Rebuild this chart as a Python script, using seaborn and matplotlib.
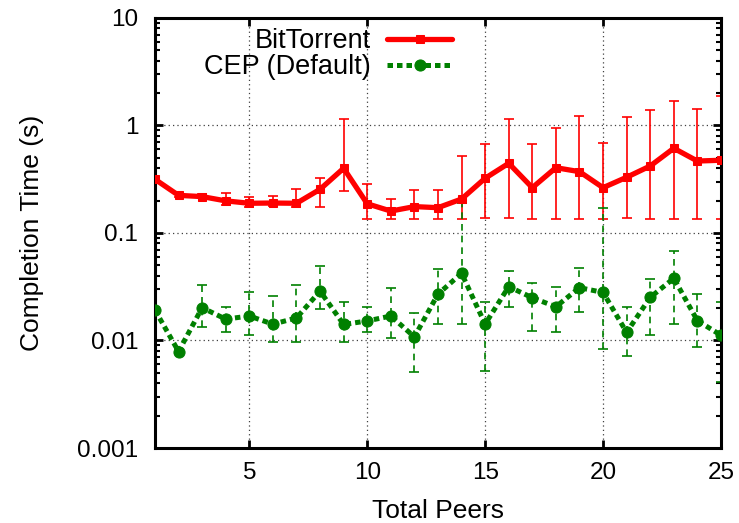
import numpy as np
import pandas as pd
import matplotlib
matplotlib.use('Agg')
import matplotlib.pyplot as plt
import seaborn as sns
from matplotlib.ticker import LogLocator, NullFormatter, FixedLocator

# values
peers = list(range(1, 26))

bt_time = [0.316, 0.224, 0.218, 0.199, 0.189, 0.19, 0.189, 0.255, 0.40, 0.187,
           0.16, 0.176, 0.172, 0.207, 0.323, 0.445, 0.264, 0.405, 0.372, 0.264,
           0.33, 0.42, 0.614, 0.467, 0.475]
bt_low = [0.30, 0.215, 0.21, 0.182, 0.176, 0.18, 0.176, 0.176, 0.245, 0.134,
          0.134, 0.136, 0.136, 0.135, 0.139, 0.137, 0.134, 0.134, 0.134, 0.134,
          0.139, 0.136, 0.136, 0.134, 0.134]
bt_high = [0.335, 0.235, 0.23, 0.237, 0.215, 0.22, 0.256, 0.327, 1.14, 0.286,
           0.208, 0.251, 0.25, 0.52, 0.67, 1.14, 0.67, 0.94, 1.23, 0.68,
           1.21, 1.39, 1.7, 1.42, 1.89]

cep_time = [0.0192, 0.0079, 0.0202, 0.0158, 0.0169, 0.0142, 0.0162, 0.0288, 0.0141, 0.0152,
            0.0169, 0.0108, 0.027, 0.0422, 0.0142, 0.0317, 0.025, 0.0206, 0.031, 0.028,
            0.0119, 0.0252, 0.0379, 0.0153, 0.0112]
cep_low = [0.018, 0.0075, 0.01346, 0.0121, 0.0112, 0.00975, 0.0096, 0.0196, 0.00975, 0.0121,
           0.0105, 0.0051, 0.0141, 0.0141, 0.0052, 0.0206, 0.0123, 0.0119, 0.0185, 0.0084,
           0.0072, 0.0112, 0.0142, 0.0087, 0.0041]
cep_high = [0.0205, 0.0083, 0.0328, 0.0204, 0.028, 0.026, 0.0328, 0.0497, 0.023, 0.0204,
            0.031, 0.0179, 0.0459, 0.19, 0.0227, 0.0447, 0.034, 0.0317, 0.0476, 0.17,
            0.0204, 0.037, 0.0684, 0.0269, 0.023]

y_ticks = [0.001, 0.01, 0.1, 1, 10]
y_ticklabels = ['0.001', '0.01', '0.1', '1', '10']
x_ticks = [5, 10, 15, 20, 25]

sns.set_theme(style='ticks')
plt.rcParams['font.family'] = ['Liberation Sans', 'DejaVu Sans']
plt.rcParams.update({'text.color': 'black', 'axes.labelcolor': 'black',
                     'xtick.color': 'black', 'ytick.color': 'black'})

fig = plt.figure(figsize=(7.39, 5.23), dpi=100)
ax = fig.add_axes([0.2097, 0.1434, 0.7659, 0.8222])

red = '#ff0000'
green = '#008000'

# error bars (min/max)
ax.errorbar(peers, bt_time,
            yerr=[np.array(bt_time) - np.array(bt_low), np.array(bt_high) - np.array(bt_time)],
            fmt='none', ecolor=red, elinewidth=1.2, capsize=3.5, capthick=1.2, zorder=2)
eb = ax.errorbar(peers, cep_time,
                 yerr=[np.array(cep_time) - np.array(cep_low), np.array(cep_high) - np.array(cep_time)],
                 fmt='none', ecolor=green, elinewidth=1.2, capsize=3.5, capthick=1.2, zorder=2)
eb[2][0].set_linestyle((0, (4, 3)))

sns.lineplot(x=peers, y=bt_time, ax=ax, color=red, linewidth=3.8, marker='s',
             markersize=5.5, markeredgecolor=red, label='BitTorrent', zorder=3)
sns.lineplot(x=peers, y=cep_time, ax=ax, color=green, linewidth=3.6,
             linestyle=(0, (1.1, 0.8)), marker='o', markersize=8,
             markeredgecolor=green, label='CEP (Default)', zorder=3)

ax.set_yscale('log')
ax.set_ylim(0.001, 10)
ax.set_xlim(1, 25)
ax.xaxis.set_major_locator(FixedLocator(x_ticks))
ax.set_yticks(y_ticks)
ax.set_yticklabels(y_ticklabels)
ax.yaxis.set_minor_locator(LogLocator(base=10, subs=np.arange(2, 10), numticks=20))
ax.yaxis.set_minor_formatter(NullFormatter())

ax.tick_params(which='both', direction='in', top=True, right=True, colors='black',
               labelsize=17.5)
ax.tick_params(which='major', length=6, width=2)
ax.tick_params(which='minor', length=3.5, width=1.5)
ax.tick_params(axis='y', which='major', pad=12)
ax.tick_params(axis='x', which='major', pad=10)
for s in ax.spines.values():
    s.set_linewidth(2.2)
    s.set_color('black')

ax.grid(True, which='major', linestyle=(0, (1, 2.5)), color='0.25', linewidth=0.9)
ax.set_axisbelow(True)

ax.set_xlabel('Total Peers', fontsize=19, labelpad=11)
ax.set_ylabel('Completion Time (s)', fontsize=19, labelpad=24)

ax.legend(loc='upper right', bbox_to_anchor=(0.612, 0.946), bbox_transform=fig.transFigure,
          frameon=False, markerfirst=False, fontsize=19.5, handlelength=2.4,
          labelspacing=0.0, borderpad=0, borderaxespad=0, handletextpad=0.6)

fig.savefig('out.png', dpi=100)
